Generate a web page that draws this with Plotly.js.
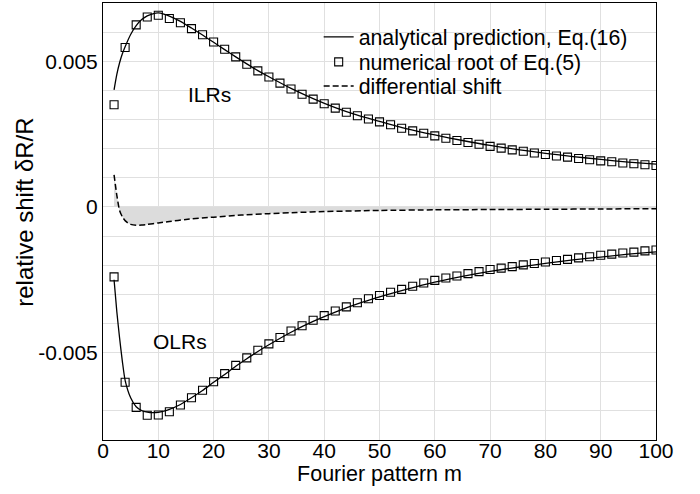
<!DOCTYPE html>
<html>
<head>
<meta charset="utf-8">
<script src="https://cdn.plot.ly/plotly-3.0.1.min.js"></script>
<style>html,body{margin:0;padding:0;background:#fff;}#chart{width:700px;height:494px;}</style>
</head>
<body>
<div id="chart"></div>
<script>
// numerical roots (markers)
const mNum = [2,4,6,8,10,12,14,16,18,20,22,24,26,28,30,32,34,36,38,40,42,44,46,48,50,
              52,54,56,58,60,62,64,66,68,70,72,74,76,78,80,82,84,86,88,90,92,94,96,98,100];
const ilrNum = [0.00351,0.00547,0.00625,0.00652,0.00658,0.00647,0.00632,0.00612,0.00591,0.00566,
                0.00541,0.00515,0.00490,0.00467,0.00446,0.00425,0.00405,0.00387,0.00370,0.00354,
                0.00339,0.00325,0.00313,0.00302,0.00292,0.00282,0.00270,0.00261,0.00253,0.00244,
                0.00236,0.00228,0.00221,0.00215,0.00208,0.00202,0.00196,0.00191,0.00185,0.00180,
                0.00175,0.00171,0.00166,0.00162,0.00158,0.00155,0.00151,0.00148,0.00145,0.00142];
const olrNum = [-0.00240,-0.00602,-0.00688,-0.00715,-0.00714,-0.00703,-0.00680,-0.00655,-0.00629,-0.00600,
                -0.00572,-0.00544,-0.00518,-0.00492,-0.00470,-0.00448,-0.00426,-0.00408,-0.00389,-0.00373,
                -0.00357,-0.00343,-0.00329,-0.00315,-0.00304,-0.00293,-0.00283,-0.00272,-0.00261,-0.00252,
                -0.00244,-0.00237,-0.00229,-0.00222,-0.00215,-0.00210,-0.00205,-0.00199,-0.00194,-0.00189,
                -0.00184,-0.00180,-0.00175,-0.00171,-0.00166,-0.00162,-0.00158,-0.00155,-0.00151,-0.00148];
// analytical prediction (solid curves)
const mAna = [2,2.5,3,3.5,4,5,6,7,8,9,10,11,12,14,16,18,20,22,24,26,28,30,34,38,42,46,50,55,60,65,70,75,80,85,90,95,100];
const ilrAna = [0.00402,0.00455,0.00495,0.00526,0.00550,0.00592,0.00622,0.00643,0.00656,0.00663,0.00666,0.00662,
                0.00655,0.00637,0.00614,0.00590,0.00565,0.00540,0.00515,0.00491,0.00468,0.00447,0.00407,0.00372,
                0.00341,0.00315,0.00294,0.00268,0.00247,0.00228,0.00211,0.00197,0.00184,0.00173,0.00163,0.00154,0.00147];
const olrAna = [-0.00250,-0.00360,-0.00450,-0.00530,-0.00595,-0.00655,-0.00686,-0.00699,-0.00704,-0.00706,-0.00705,-0.00701,
                -0.00695,-0.00678,-0.00655,-0.00630,-0.00602,-0.00575,-0.00547,-0.00521,-0.00496,-0.00473,-0.00430,-0.00393,
                -0.00361,-0.00333,-0.00309,-0.00282,-0.00258,-0.00238,-0.00221,-0.00207,-0.00194,-0.00182,-0.00172,-0.00162,-0.00154];
// differential shift (dashed)
const mDiff = [2,2.5,3,3.5,4,4.5,5,6,7,8,10,12,15,20,25,30,35,40,50,60,70,80,90,100];
const diff = [0.00110,0.00040,-0.00012,-0.00034,-0.00047,-0.00055,-0.00060,-0.00063,-0.00062,-0.00060,-0.00055,-0.00050,
              -0.00043,-0.00035,-0.00028,-0.00023,-0.00019,-0.00016,-0.00012,-0.00010,-0.00009,-0.00008,-0.00007,-0.00006];
// axis ticks
const xTicks = [0,10,20,30,40,50,60,70,80,90,100];
const xTickText = ['0','10','20','30','40','50','60','70','80','90','100'];
const yTicks = [-0.005,0,0.005];
const yTickText = ['-0.005','0','0.005'];
const labels = [{text:'ILRs', m:19.3, v:0.00385},{text:'OLRs', m:13.9, v:-0.00462}];
const legendNames = ['analytical prediction, Eq.(16)','numerical root of Eq.(5)','differential shift'];
const xTitle = 'Fourier pattern m';
const yTitle = 'relative shift δR/R';

const FONT = 'Liberation Sans, Arial, sans-serif';
const traces = [
  {x:mDiff, y:diff, type:'scatter', mode:'lines', fill:'tozeroy', fillcolor:'#dcdcdc',
   line:{width:0, shape:'spline', smoothing:0.6}, showlegend:false, hoverinfo:'skip'},
  {x:mAna, y:ilrAna, type:'scatter', mode:'lines', name:legendNames[0], legend:'legend',
   line:{color:'#000', width:1.3, shape:'spline', smoothing:0.6}, legendgroup:'a'},
  {x:mAna, y:olrAna, type:'scatter', mode:'lines', name:legendNames[0],
   line:{color:'#000', width:1.3, shape:'spline', smoothing:0.6}, legendgroup:'a', showlegend:false},
  {x:mNum, y:ilrNum, type:'scatter', mode:'markers', name:legendNames[1], legend:'legend2',
   marker:{symbol:'square-open', size:8, color:'#000', line:{width:1.1, color:'#000'}}, legendgroup:'n'},
  {x:mNum, y:olrNum, type:'scatter', mode:'markers', name:legendNames[1],
   marker:{symbol:'square-open', size:8, color:'#000', line:{width:1.1, color:'#000'}}, legendgroup:'n', showlegend:false},
  {x:mDiff, y:diff, type:'scatter', mode:'lines', name:legendNames[2], legend:'legend3',
   line:{color:'#000', width:1.5, dash:'6px,3px', shape:'spline', smoothing:0.6}}
];

function leg(y){
  return {x:0.39, y:y, xanchor:'left', yanchor:'middle', bgcolor:'rgba(0,0,0,0)', borderwidth:0,
          font:{family:FONT, size:21.3, color:'#000'}, itemwidth:30, tracegroupgap:0};
}

const annotations = labels.map(l => ({x:l.m, y:l.v, xref:'x', yref:'y', text:l.text, showarrow:false,
                                 font:{family:FONT, size:21, color:'#000'}}));
annotations.push({x:-0.141, y:0.52, xref:'paper', yref:'paper', text:yTitle, textangle:-90, showarrow:false,
                  xanchor:'center', yanchor:'middle', font:{family:FONT, size:24, color:'#000'}});

const layout = {
  width:700, height:494,
  margin:{l:103, r:44, t:3, b:54},
  paper_bgcolor:'#fff', plot_bgcolor:'#fff',
  font:{family:FONT, size:21, color:'#000'},
  showlegend:true,
  legend:leg(0.922), legend2:leg(0.865), legend3:leg(0.810),
  // white backing behind the legend block (hides gridlines there)
  shapes:[{type:'rect', xref:'paper', yref:'paper', x0:0.405, x1:0.972, y0:0.783, y1:0.96,
           fillcolor:'#fff', line:{width:0}, layer:'between'}],
  xaxis:{range:[0,100], tickvals:xTicks, ticktext:xTickText, showgrid:true, gridcolor:'#e0e0e0', gridwidth:1,
         zeroline:false, showline:true, linecolor:'#000', linewidth:1, mirror:true, ticks:'', ticklen:0,
         ticklabelstandoff:-8,
         tickfont:{family:FONT, size:21, color:'#000'},
         title:{text:xTitle, font:{family:FONT, size:21.5, color:'#000'}, standoff:4}},
  yaxis:{range:[-0.008,0.007], tickvals:yTicks, ticktext:yTickText, showgrid:true, gridcolor:'#e0e0e0', gridwidth:1,
         minor:{dtick:0.001, tick0:0, showgrid:true, gridcolor:'#e0e0e0', gridwidth:1, ticks:''},
         zeroline:false, showline:true, linecolor:'#000', linewidth:1, mirror:true, ticks:'', ticklen:5,
         tickfont:{family:FONT, size:21, color:'#000'}},
  annotations: annotations
};
Plotly.newPlot('chart', traces, layout, {displayModeBar:false, staticPlot:true});
</script>
</body>
</html>
